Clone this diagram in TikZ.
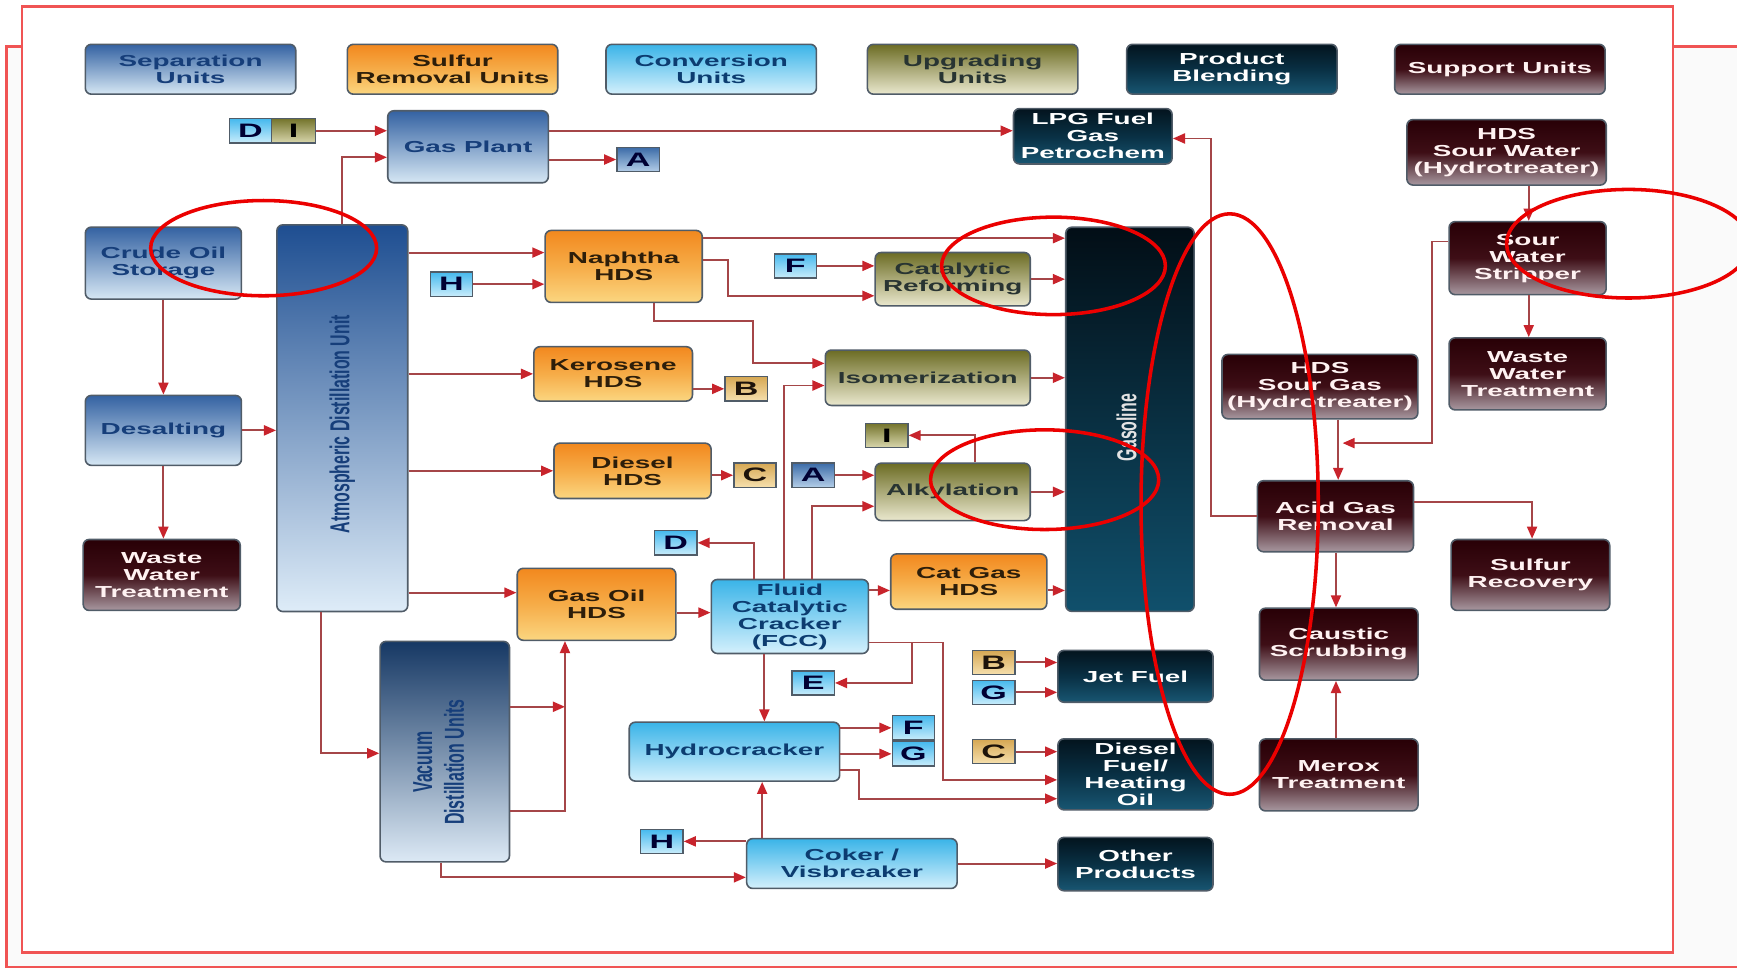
\documentclass[tikz,border=0pt]{standalone}
\usepackage{fontspec}
\setmainfont{Liberation Sans}[FakeStretch=1.75]
\newfontfamily\rotfont{Liberation Sans}[FakeStretch=0.58]
\usetikzlibrary{arrows.meta}

\definecolor{frame}{RGB}{240,84,84}
\definecolor{ring}{RGB}{235,0,0}
\definecolor{linecol}{RGB}{165,70,72}
\definecolor{tipcol}{RGB}{200,36,44}
\definecolor{boxline}{RGB}{80,92,104}
\definecolor{sepTop}{RGB}{52,98,162}
\definecolor{sepBot}{RGB}{214,231,244}
\definecolor{sepText}{RGB}{22,62,122}
\definecolor{aduTop}{RGB}{30,78,145}
\definecolor{aduBot}{RGB}{222,236,248}
\definecolor{vacTop}{RGB}{22,56,100}
\definecolor{vacBot}{RGB}{220,233,245}
\definecolor{sulTop}{RGB}{242,136,30}
\definecolor{sulMid}{RGB}{246,172,72}
\definecolor{sulBot}{RGB}{251,214,128}
\definecolor{sulText}{RGB}{45,30,10}
\definecolor{conTop}{RGB}{58,180,232}
\definecolor{conBot}{RGB}{212,240,252}
\definecolor{conText}{RGB}{12,60,112}
\definecolor{upgTop}{RGB}{108,108,36}
\definecolor{upgBot}{RGB}{234,232,206}
\definecolor{upgText}{RGB}{40,52,50}
\definecolor{prodTop}{RGB}{3,20,30}
\definecolor{prodMid}{RGB}{9,48,68}
\definecolor{prodBot}{RGB}{24,86,114}
\definecolor{gasTop}{RGB}{2,14,22}
\definecolor{gasBot}{RGB}{16,80,108}
\definecolor{supTop}{RGB}{40,0,6}
\definecolor{supMid}{RGB}{62,14,22}
\definecolor{supBot}{RGB}{168,152,160}
\definecolor{tagAtop}{RGB}{60,108,168}
\definecolor{tagAbot}{RGB}{180,206,232}
\definecolor{tagDtop}{RGB}{70,185,238}
\definecolor{tagDbot}{RGB}{200,236,251}
\definecolor{tagBtop}{RGB}{214,168,84}
\definecolor{tagBbot}{RGB}{246,224,174}
\definecolor{tagItop}{RGB}{116,116,44}
\definecolor{tagIbot}{RGB}{216,214,172}

\begin{document}
\begin{tikzpicture}[x=0.022cm,y=-0.022cm,
 box/.style={draw=boxline,line width=0.9pt,rounded corners=0.12cm,align=center,inner sep=1pt,
 font=\bfseries\fontsize{9}{9.6}\selectfont},
 sepbox/.style={box,top color=sepTop,bottom color=sepBot,text=sepText},
 sulbox/.style={box,top color=sulTop,bottom color=sulBot,middle color=sulMid,text=sulText},
 conbox/.style={box,top color=conTop,bottom color=conBot,text=conText},
 upgbox/.style={box,top color=upgTop,bottom color=upgBot,text=upgText},
 prodbox/.style={box,top color=prodTop,bottom color=prodBot,middle color=prodMid,text=white},
 supbox/.style={box,top color=supTop,bottom color=supBot,middle color=supMid,text=white!95!red},
 legend/.style={minimum width=4.18cm,minimum height=0.99cm},
 tag/.style={draw=boxline,line width=0.8pt,minimum width=0.84cm,minimum height=0.48cm,inner sep=0pt,
 font=\bfseries\fontsize{11}{11}\selectfont},
 tagblue/.style={tag,top color=tagAtop,bottom color=tagAbot,text=black!80!blue},
 taglight/.style={tag,top color=tagDtop,bottom color=tagDbot,text=black!80!blue},
 tagtan/.style={tag,top color=tagBtop,bottom color=tagBbot,text=black!85!brown},
 tagolive/.style={tag,top color=tagItop,bottom color=tagIbot,text=black},
 rotlabel/.style={rotate=90,align=center,font=\rotfont\bfseries\fontsize{15.5}{18}\selectfont},
 flow/.style={draw=linecol,line width=1.1pt,-{Triangle[length=0.24cm,width=0.2cm,color=tipcol]}},
 redring/.style={draw=ring,line width=2pt}]

\useasboundingbox (0,0) rectangle (1568,878);
\draw[draw=frame,line width=1.4pt,fill=black!2] (6,42) rectangle (1600,873);
\draw[draw=frame,line width=1.4pt,fill=white] (20,6) rectangle (1510,860);

% legend
\node[sepbox,legend] (legsep) at (172,62.5) {Separation\\Units};
\node[sulbox,legend] (legsul) at (408.5,62.5) {Sulfur\\Removal Units};
\node[conbox,legend] (legcon) at (642,62.5) {Conversion\\Units};
\node[upgbox,legend] (legupg) at (878,62.5) {Upgrading\\Units};
\node[prodbox,legend] (legprod) at (1112,62.5) {Product\\Blending};
\node[supbox,legend] (legsup) at (1354,62.5) {Support Units};

% separation
\node[sepbox,minimum width=3.19cm,minimum height=1.43cm] (gas) at (422.5,132.5) {Gas Plant};
\node[sepbox,minimum width=3.1cm,minimum height=1.43cm] (crude) at (147.5,237.5) {Crude Oil\\Storage};
\node[sepbox,minimum width=3.1cm,minimum height=1.39cm] (desalt) at (147.5,388.5) {Desalting};
\node[sepbox,top color=aduTop,bottom color=aduBot,minimum width=2.6cm,minimum height=7.68cm] (adu) at (309,377.5) {};
\node[rotlabel,text=sepText] (adulabel) at (309,383) {Atmospheric Distillation Unit};
\node[sepbox,top color=vacTop,bottom color=vacBot,minimum width=2.57cm,minimum height=4.38cm] (vac) at (401.5,678.5) {};
\node[rotlabel,text=sepText] (vaclabel) at (396,688) {Vacuum\\Distillation Units};

% sulfur removal
\node[sulbox,minimum width=3.12cm,minimum height=1.43cm] (naph) at (563,240.5) {Naphtha\\HDS};
\node[sulbox,minimum width=3.15cm,minimum height=1.08cm] (kero) at (553.5,337.5) {Kerosene\\HDS};
\node[sulbox,minimum width=3.12cm,minimum height=1.1cm] (dies) at (571,425) {Diesel\\HDS};
\node[sulbox,minimum width=3.15cm,minimum height=1.43cm] (gasoil) at (538.5,545.5) {Gas Oil\\HDS};
\node[sulbox,minimum width=3.1cm,minimum height=1.1cm] (catgas) at (874.5,525) {Cat Gas\\HDS};

% conversion
\node[conbox,minimum width=3.12cm,minimum height=1.47cm] (fcc) at (713,556.5) {Fluid\\Catalytic\\Cracker\\(FCC)};
\node[conbox,minimum width=4.18cm,minimum height=1.17cm] (hydro) at (663,678.5) {Hydrocracker};
\node[conbox,minimum width=4.18cm,minimum height=0.99cm] (coker) at (769,779.5) {Coker /\\Visbreaker};

% upgrading
\node[upgbox,minimum width=3.08cm,minimum height=1.06cm] (catref) at (860,252) {Catalytic\\Reforming};
\node[upgbox,minimum width=4.07cm,minimum height=1.1cm] (isom) at (837.5,341) {Isomerization};
\node[upgbox,minimum width=3.08cm,minimum height=1.14cm] (alky) at (860,444) {Alkylation};

% product blending
\node[prodbox,minimum width=3.15cm,minimum height=1.1cm] (lpg) at (986.5,123) {LPG Fuel\\Gas\\Petrochem};
\node[prodbox,top color=gasTop,bottom color=gasBot,minimum width=2.55cm,minimum height=7.63cm] (gasoline) at (1020,378.5) {};
\node[rotlabel,text=white!78!gray] (gaslabel) at (1017,386) {Gasoline};
\node[prodbox,minimum width=3.08cm,minimum height=1.03cm] (jet) at (1025,610.5) {Jet Fuel};
\node[prodbox,minimum width=3.08cm,minimum height=1.41cm] (dfuel) at (1025,699) {Diesel\\Fuel/\\Heating\\Oil};
\node[prodbox,minimum width=3.08cm,minimum height=1.06cm] (other) at (1025,780) {Other\\Products};

% support
\node[supbox,minimum width=3.96cm,minimum height=1.3cm] (hdssw) at (1360,137.5) {HDS\\Sour Water\\(Hydrotreater)};
\node[supbox,minimum width=3.12cm,minimum height=1.45cm] (sws) at (1379,233) {Sour\\Water\\Stripper};
\node[supbox,minimum width=3.12cm,minimum height=1.43cm] (wwtr) at (1379,337.5) {Waste\\Water\\Treatment};
\node[supbox,minimum width=3.89cm,minimum height=1.28cm] (hdssg) at (1191.5,349) {HDS\\Sour Gas\\(Hydrotreater)};
\node[supbox,minimum width=3.1cm,minimum height=1.41cm] (agr) at (1205.5,466) {Acid Gas\\Removal};
\node[supbox,minimum width=3.15cm,minimum height=1.41cm] (sulrec) at (1381.5,519) {Sulfur\\Recovery};
\node[supbox,minimum width=3.15cm,minimum height=1.43cm] (caustic) at (1208.5,581.5) {Caustic\\Scrubbing};
\node[supbox,minimum width=3.15cm,minimum height=1.43cm] (merox) at (1208.5,699.5) {Merox\\Treatment};
\node[supbox,minimum width=3.12cm,minimum height=1.41cm] (wwtl) at (146,519) {Waste\\Water\\Treatment};

% stream tags
\node[taglight] (dtag1) at (226,118) {D};
\node[tagolive,minimum width=0.88cm] (itag1) at (265,118) {I};
\node[tagblue] (atag1) at (576,144) {A};
\node[taglight] (htag1) at (407.5,256.5) {H};
\node[taglight] (ftag1) at (718,240) {F};
\node[tagtan] (btag1) at (673.5,351) {B};
\node[tagolive] (itag2) at (800.5,393) {I};
\node[tagtan] (ctag1) at (681.5,429) {C};
\node[tagblue] (atag2) at (734,429) {A};
\node[taglight] (dtag2) at (610,490) {D};
\node[tagtan] (btag2) at (897,598) {B};
\node[taglight] (gtag1) at (897,625) {G};
\node[taglight] (etag) at (734,616.5) {E};
\node[taglight] (ftag2) at (824.5,657) {F};
\node[taglight] (gtag2) at (824.5,680.5) {G};
\node[tagtan] (ctag2) at (897,678.5) {C};
\node[taglight] (htag2) at (597.5,759.5) {H};

% streams
\draw[flow] (itag1.east) -- (gas.west |- itag1.east);
\draw[flow] (adu.north) |- (gas.west |- 0,142);
\draw[flow] (gas.east |- atag1.west) -- (atag1.west);
\draw[flow] (gas.east |- 0,118) -- (lpg.west |- 0,118);
\draw[flow] (agr.west) -| (1093,125) -- (lpg.east |- 0,125);

\draw[flow] (crude.south) -- (desalt.north);
\draw[flow] (desalt.south) -- (wwtl.north -| desalt.south);
\draw[flow] (desalt.east) -- (adu.west |- desalt.east);

\draw[flow] (adu.east |- 0,228) -- (naph.west |- 0,228);
\draw[flow] (htag1.east) -- (naph.west |- htag1.east);
\draw[flow] (adu.east |- kero.west) -- (kero.west);
\draw[flow] (adu.east |- dies.west) -- (dies.west);
\draw[flow] (adu.east |- 0,535) -- (gasoil.west |- 0,535);
\draw[flow] (adu.south -| 290,0) |- (vac.west |- 0,680);

\draw[flow] (naph.east |- 0,215) -- (gasoline.west |- 0,215);
\draw[flow] (naph.east |- 0,235) -| (657,267) -- (catref.west |- 0,267);
\draw[flow] (naph.south -| 590,0) |- (680,290) |- (isom.west |- 0,328);
\draw[flow] (ftag1.east) -- (catref.west |- ftag1.east);
\draw[flow] (catref.east) -- (gasoline.west |- catref.east);
\draw[flow] (kero.east |- btag1.west) -- (btag1.west);
\draw[flow] (isom.east) -- (gasoline.west |- isom.east);
\draw[flow] (dies.east |- ctag1.west) -- (ctag1.west);
\draw[flow] (atag2.east) -- (alky.west |- atag2.east);
\draw[flow] (alky.north -| 880,0) |- (itag2.east);
\draw[flow] (alky.east) -- (gasoline.west |- alky.east);

\draw[flow] (fcc.north -| 708,0) |- (isom.west |- 0,348);
\draw[flow] (fcc.north -| 733,0) |- (alky.west |- 0,457);
\draw[flow] (fcc.north -| 681,0) |- (dtag2.east);
\draw[flow] (gasoil.east |- 0,553) -- (fcc.west |- 0,553);
\draw[flow] (fcc.east |- 0,533) -- (catgas.west |- 0,533);
\draw[flow] (catgas.east |- 0,533) -- (gasoline.west |- 0,533);
\draw[flow] (fcc.south -| 690,0) -- (hydro.north -| 690,0);
\draw[flow] (fcc.east |- 0,580) -| (851,704) -- (dfuel.west |- 0,704);
\draw[flow] (823,580) |- (etag.east);

\coordinate (vacjoin) at (510,638);
\draw[flow] (vac.east |- vacjoin) -- (vacjoin);
\draw[flow] (vac.east |- 0,732) -| (gasoil.south -| vacjoin);
\draw[flow] (vac.south -| 398,0) |- (coker.west |- 0,792);

\draw[flow] (hydro.east |- ftag2.west) -- (ftag2.west);
\draw[flow] (hydro.east |- gtag2.west) -- (gtag2.west);
\draw[flow] (hydro.east |- 0,695) -| (775,721) -- (dfuel.west |- 0,721);
\draw[flow] (btag2.east) -- (jet.west |- btag2.east);
\draw[flow] (gtag1.east) -- (jet.west |- gtag1.east);
\draw[flow] (ctag2.east) -- (dfuel.west |- ctag2.east);
\draw[flow] (coker.north -| 688,0) -- (hydro.south -| 688,0);
\draw[flow] (coker.west |- htag2.east) -- (htag2.east);
\draw[flow] (coker.east) -- (other.west |- coker.east);

\draw[flow] (hdssw.south -| 1380,0) -- (sws.north -| 1380,0);
\draw[flow] (sws.south -| 1380,0) -- (wwtr.north -| 1380,0);
\draw[flow] (sws.west |- 0,218) -| (1293,400) -- (1212,400);
\draw[flow] (hdssg.south -| 1208,0) -- (agr.north -| 1208,0);
\draw[flow] (agr.east |- 0,453) -| (sulrec.north -| 1383,0);
\draw[flow] (agr.south -| 1206,0) -- (caustic.north -| 1206,0);
\draw[flow] (merox.north -| 1206,0) -- (caustic.south -| 1206,0);

% marks
\draw[redring] (238,224) ellipse [x radius=102,y radius=43];
\draw[redring] (951,240) ellipse [x radius=101,y radius=44];
\draw[redring] (943,433) ellipse [x radius=103,y radius=45];
\draw[redring] (1110,455) ellipse [x radius=80,y radius=262];
\draw[redring] (1470,220) ellipse [x radius=110,y radius=49];

\end{tikzpicture}
\end{document}
